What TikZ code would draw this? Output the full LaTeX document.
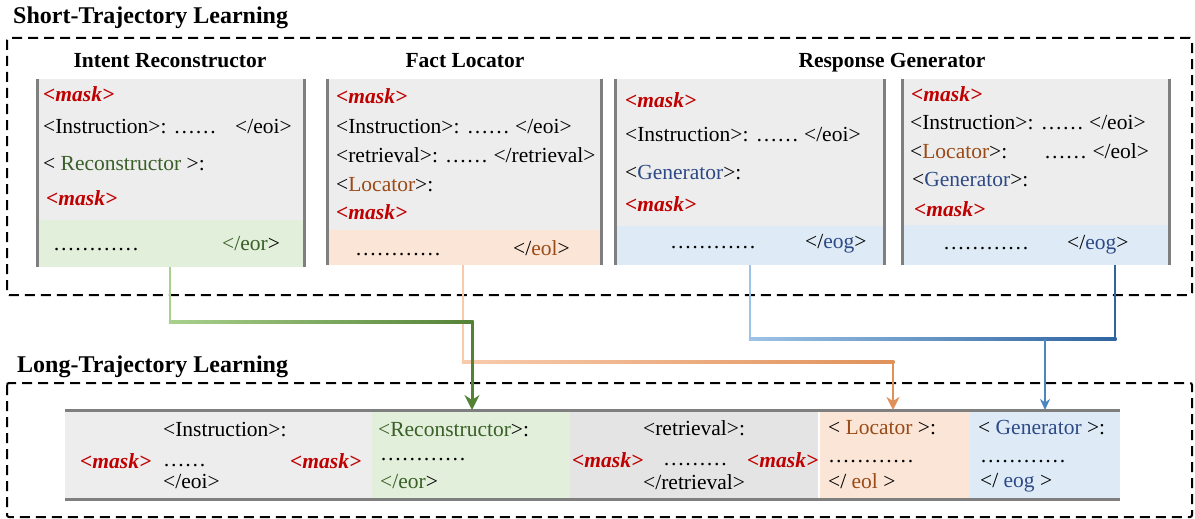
\documentclass[tikz,border=0pt]{standalone}
\usepackage{fontspec}
\setmainfont{Liberation Serif}
\usetikzlibrary{arrows.meta}
\definecolor{panelgray}{HTML}{EDEDED}
\definecolor{bargray}{HTML}{E4E4E4}
\definecolor{gfill}{HTML}{E2EFDA}
\definecolor{ofill}{HTML}{FBE5D6}
\definecolor{bfill}{HTML}{DEEBF7}
\definecolor{edgegray}{HTML}{7F7F7F}
\definecolor{maskred}{HTML}{C00000}
\definecolor{rtxt}{HTML}{3A5F28}
\definecolor{ltxt}{HTML}{9A4A16}
\definecolor{gtxt}{HTML}{2E4A86}
\definecolor{glight}{HTML}{A9D18E}
\definecolor{gdark}{HTML}{548235}
\definecolor{olight}{HTML}{F8CBAD}
\definecolor{odark}{HTML}{E0915A}
\definecolor{blight}{HTML}{9DC3E6}
\definecolor{bdark}{HTML}{2E64A0}
\definecolor{bmid}{HTML}{4A86C0}
\newcommand\mk{{\color{maskred}\bfseries\itshape <mask>}}
\begin{document}
\begin{tikzpicture}[x=1pt,y=-1pt,
  box/.style={rectangle, inner sep=0pt, outer sep=0pt, anchor=north west, draw=none},
  edgeline/.style={draw=edgegray, line width=3pt},
  dashbox/.style={draw=black, line width=2pt, dash pattern=on 10pt off 6pt, rounded corners=2pt},
  txt/.style={anchor=base west, inner sep=0pt, font=\fontsize{21.5}{24}\selectfont},
  ttl/.style={anchor=base, inner sep=0pt, font=\fontsize{21.5}{24}\selectfont\bfseries},
  sect/.style={anchor=base west, inner sep=0pt, font=\fontsize{24}{28}\selectfont\bfseries},
  conn/.style={line width=2.5pt},
  garr/.style={line width=3pt, -{Stealth[length=15pt,width=15pt,inset=5pt]}},
  oarr/.style={line width=2.5pt, -{Stealth[length=13pt,width=13pt,inset=4pt]}},
  barr/.style={line width=2pt, -{Stealth[length=11pt,width=10pt,inset=3.5pt]}}
]
\useasboundingbox (0,0) rectangle (1195,519);

% section titles and dashed frames
\node[sect] (st) at (13,24) {Short-Trajectory Learning};
\node[sect] (lt) at (17,372) {Long-Trajectory Learning};
\draw[dashbox] (7,38) rectangle (1192,295);
\draw[dashbox] (7,383) rectangle (1192,517);

% panel titles
\node[ttl] (h1) at (170,68) {Intent Reconstructor};
\node[ttl] (h2) at (465,67) {Fact Locator};
\node[ttl] (h3) at (892,67) {Response Generator};

% panels
\node[box, fill=panelgray, minimum width=267, minimum height=188] (p1) at (37,79) {};
\node[box, fill=gfill, minimum width=267, minimum height=47] (p1b) at (37,220) {};
\node[box, fill=panelgray, minimum width=274, minimum height=186] (p2) at (327,79) {};
\node[box, fill=ofill, minimum width=274, minimum height=35] (p2b) at (327,230) {};
\node[box, fill=panelgray, minimum width=269, minimum height=186] (p3) at (615,79) {};
\node[box, fill=bfill, minimum width=269, minimum height=39] (p3b) at (615,226) {};
\node[box, fill=panelgray, minimum width=267, minimum height=186] (p4) at (902,79) {};
\node[box, fill=bfill, minimum width=267, minimum height=40] (p4b) at (902,225) {};
\foreach \p in {p1,p2,p3,p4}{
  \draw[edgeline] (\p.north west) -- (\p.south west);
  \draw[edgeline] (\p.north east) -- (\p.south east);
}

% panel 1 text
\node[txt] (a1) at (43,102) {\mk};
\node[txt] (a2) at (43,133) {<Instruction>: ……};
\node[txt] (a3) at (235,133) {</eoi>};
\node[txt] (a4) at (43,170) {< \textcolor{rtxt}{Reconstructor} >:};
\node[txt] (a5) at (46,205) {\mk};
\node[txt] (a6) at (53,250) {…………};
\node[txt] (a7) at (222,250) {\textcolor{rtxt}{</eor}>};

% panel 2 text
\node[txt] (b1) at (336,103) {\mk};
\node[txt] (b2) at (336,133) {<Instruction>: …… </eoi>};
\node[txt] (b3) at (336,162) {<retrieval>: …… </retrieval>};
\node[txt] (b4) at (336,191) {<\textcolor{ltxt}{Locator}>:};
\node[txt] (b5) at (336,219) {\mk};
\node[txt] (b6) at (355,255) {…………};
\node[txt] (b7) at (513,255) {</\textcolor{ltxt}{eol}>};

% panel 3 text
\node[txt] (c1) at (625,107) {\mk};
\node[txt] (c2) at (625,142) {<Instruction>: …… </eoi>};
\node[txt] (c3) at (625,179) {<\textcolor{gtxt}{Generator}>:};
\node[txt] (c4) at (625,211) {\mk};
\node[txt] (c5) at (670,248) {…………};
\node[txt] (c6) at (805,248) {</\textcolor{gtxt}{eog}>};

% panel 4 text
\node[txt] (d1) at (911,102) {\mk};
\node[txt] (d2) at (910,129) {<Instruction>: …… </eoi>};
\node[txt] (d3) at (910,158) {<\textcolor{ltxt}{Locator}>:};
\node[txt] (d4) at (1044,158) {…… </eol>};
\node[txt] (d5) at (912,186) {<\textcolor{gtxt}{Generator}>:};
\node[txt] (d6) at (914,216) {\mk};
\node[txt] (d7) at (943,249) {…………};
\node[txt] (d8) at (1067,249) {</\textcolor{gtxt}{eog}>};

% long bar
\node[box, fill=panelgray, minimum width=307, minimum height=89] (s1) at (65,410) {};
\node[box, fill=gfill, minimum width=198, minimum height=89] (s2) at (372,410) {};
\node[box, fill=bargray, minimum width=249, minimum height=89] (s3) at (570,410) {};
\node[box, fill=ofill, minimum width=151, minimum height=89] (s4) at (819,410) {};
\node[box, fill=bfill, minimum width=150, minimum height=89] (s5) at (970,410) {};
\draw[white, line width=1.5pt] (s4.north west) -- (s4.south west);
\draw[edgeline] (s1.north west) -- (s5.north east);
\draw[edgeline] (s1.south west) -- (s5.south east);

\node[txt] (e1) at (80,468) {\mk};
\node[txt] (e2) at (163,436) {<Instruction>:};
\node[txt] (e3) at (163,466) {……};
\node[txt] (e4) at (163,488) {</eoi>};
\node[txt] (e5) at (290,468) {\mk};
\node[txt] (f1) at (378,436) {\textcolor{rtxt}{<Reconstructor}>:};
\node[txt] (f2) at (380,460) {…………};
\node[txt] (f3) at (380,488) {\textcolor{rtxt}{</eor}>};
\node[txt] (g1) at (643,435) {<retrieval>:};
\node[txt] (g2) at (572,467) {\mk};
\node[txt] (g3) at (663,465) {………};
\node[txt] (g4) at (747,467) {\mk};
\node[txt] (g5) at (643,489) {</retrieval>};
\node[txt] (i1) at (828,434) {< \textcolor{ltxt}{Locator} >:};
\node[txt] (i2) at (828,462) {…………};
\node[txt] (i3) at (828,488) {</ \textcolor{ltxt}{eol} >};
\node[txt] (j1) at (978,434) {< \textcolor{gtxt}{Generator} >:};
\node[txt] (j2) at (980,462) {…………};
\node[txt] (j3) at (980,487) {</ \textcolor{gtxt}{eog} >};

% connectors
\coordinate (oc1) at (463,362);
\coordinate (oc2) at (893,362);
\draw[conn, olight] (p2.south -| oc1) -- (oc1);
\shade[left color=olight, right color=odark] (461.75,360.75) rectangle (894.25,363.25);
\draw[oarr, odark] (oc2) -- (s4.north -| oc2);

\coordinate (gc1) at (170,322);
\coordinate (gc2) at (472,322);
\draw[conn, glight] (p1.south -| gc1) -- (gc1);
\shade[left color=glight, right color=gdark] (168.75,320.75) rectangle (473.5,323.25);
\draw[garr, gdark] (gc2) -- (s2.north -| gc2);

\coordinate (bc1) at (750,339);
\coordinate (bc2) at (1115,339);
\coordinate (bc3) at (1045,339);
\draw[conn, blight] (p3.south -| bc1) -- (bc1);
\draw[conn, bdark] (p4.south -| bc2) -- (bc2);
\shade[left color=blight, right color=bdark] (748.75,337.75) rectangle (1116.25,340.25);
\draw[barr, bmid] (bc3) -- (s5.north -| bc3);
\end{tikzpicture}
\end{document}
